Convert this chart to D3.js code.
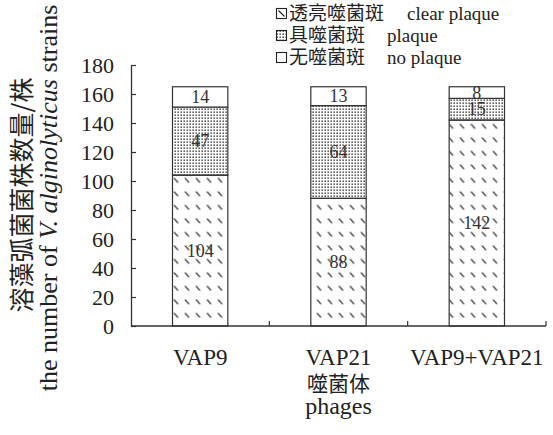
<!DOCTYPE html>
<html><head><meta charset="utf-8">
<script src="https://cdn.jsdelivr.net/npm/d3@7/dist/d3.min.js"></script>
<style>
body{margin:0;background:#fff}svg{display:block}
.serif{font-family:"Liberation Serif","Times New Roman",Times,"DejaVu Serif",serif}
.cjk{font-family:"Noto Sans CJK SC","Noto Sans CJK JP",sans-serif}
</style>
</head><body><svg id="c" width="553" height="435"></svg>
<script>
const categories = ["VAP9", "VAP21", "VAP9+VAP21"];
const clearPlaque = [104, 88, 142];
const plaque = [47, 64, 15];
const noPlaque = [14, 13, 8];
const seriesKeys = ["clear", "plaque", "none"];
const legendZh = ["透亮噬菌斑", "具噬菌斑", "无噬菌斑"];
const legendEn = ["clear plaque", "plaque", "no plaque"];
const yTicks = [0, 20, 40, 60, 80, 100, 120, 140, 160, 180];
const yTitleZh = "溶藻弧菌菌株数量/株";
const xTitleZh = "噬菌体";
const xTitleEn = "phages";

const ink = "#222";

const svg = d3.select("#c");
svg.append("rect").attr("width", 553).attr("height", 435).attr("fill", "#fff");

const defs = svg.append("defs");
const hatch = defs.append("pattern").attr("id", "hatch").attr("patternUnits", "userSpaceOnUse")
  .attr("width", 11).attr("height", 13.5).attr("x", 172.5).attr("y", 0);
hatch.append("line").attr("x1", 1.5).attr("y1", 2.5).attr("x2", 5.5).attr("y2", 7)
  .attr("stroke", "#111").attr("stroke-width", 1.1);
const dots = defs.append("pattern").attr("id", "dots").attr("patternUnits", "userSpaceOnUse")
  .attr("width", 3).attr("height", 3);
dots.append("rect").attr("x", 0.5).attr("y", 0.5).attr("width", 1.3).attr("height", 1.3).attr("fill", "#111");

const fills = { clear: "url(#hatch)", plaque: "url(#dots)", none: "#fff" };

const rows = categories.map((c, i) => ({ cat: c, clear: clearPlaque[i], plaque: plaque[i], none: noPlaque[i] }));
const stacked = d3.stack().keys(seriesKeys)(rows);

const x = d3.scaleBand().domain(categories).range([131, 546]).paddingInner(0.6).paddingOuter(0.3);
const y = d3.scaleLinear().domain([0, 180]).range([326, 65]);

// bars
stacked.forEach(s => {
  svg.append("g").selectAll("rect").data(s).join("rect")
    .attr("x", d => x(d.data.cat))
    .attr("width", x.bandwidth())
    .attr("y", d => y(d[1]))
    .attr("height", d => y(d[0]) - y(d[1]))
    .attr("fill", fills[s.key])
    .attr("stroke", "#333").attr("stroke-width", 1.2);
});
// segment labels
stacked.forEach(s => {
  svg.append("g").selectAll("text").data(s).join("text")
    .attr("class", "serif")
    .attr("x", d => x(d.data.cat) + x.bandwidth() / 2)
    .attr("y", d => y((d[0] + d[1]) / 2) + 6)
    .attr("text-anchor", "middle")
    .attr("font-size", 18).attr("fill", "#333")
    .text(d => d[1] - d[0]);
});

// y axis
const ya = svg.append("g").attr("transform", "translate(131,0)")
  .call(d3.axisLeft(y).tickValues(yTicks).tickSizeInner(-5).tickSizeOuter(0).tickPadding(17));
ya.attr("font-family", null).attr("font-size", null);
ya.select(".domain").attr("stroke", "#333").attr("stroke-width", 1.3);
ya.selectAll(".tick line").attr("stroke", "#333").attr("stroke-width", 1.2);
ya.selectAll(".tick text").attr("class", "serif").attr("font-size", 22).attr("fill", ink);

// x axis
svg.append("line").attr("x1", 131).attr("x2", 546).attr("y1", 326).attr("y2", 326)
  .attr("stroke", "#333").attr("stroke-width", 1.3);
svg.append("g").selectAll("line").data(categories).join("line")
  .attr("x1", d => x(d) + x.bandwidth() + x.step() * 0.3)
  .attr("x2", d => x(d) + x.bandwidth() + x.step() * 0.3)
  .attr("y1", 326).attr("y2", 321)
  .attr("stroke", "#333").attr("stroke-width", 1.2);
svg.append("g").selectAll("text").data(categories).join("text")
  .attr("class", "serif")
  .attr("x", d => x(d) + x.bandwidth() / 2).attr("y", 365)
  .attr("text-anchor", "middle").attr("font-size", 23).attr("fill", ink)
  .text(d => d);
const midX = x(categories[1]) + x.bandwidth() / 2;
svg.append("text").attr("class", "cjk").attr("x", midX).attr("y", 391).attr("text-anchor", "middle")
  .attr("font-size", 21).attr("fill", ink).text(xTitleZh);
svg.append("text").attr("class", "serif").attr("x", midX).attr("y", 414).attr("text-anchor", "middle")
  .attr("font-size", 24).attr("fill", ink).text(xTitleEn);

// y title
svg.append("text").attr("class", "cjk").attr("transform", "translate(31,195) rotate(-90)").attr("text-anchor", "middle")
  .attr("font-size", 25).attr("fill", ink).text(yTitleZh);
const yt = svg.append("text").attr("class", "serif").attr("transform", "translate(57,198) rotate(-90)").attr("text-anchor", "middle")
  .attr("font-size", 26).attr("fill", ink);
yt.append("tspan").text("the number of ");
yt.append("tspan").attr("font-style", "italic").text("V. alginolyticus");
yt.append("tspan").text(" strains");

// legend
const lg = svg.append("g");
legendZh.forEach((t, i) => {
  const by = 20 + i * 22;
  lg.append("rect").attr("x", 276.5).attr("y", by - 11.5).attr("width", 10).attr("height", 10)
    .attr("fill", i === 1 ? "url(#dots)" : "#fff").attr("stroke", "#222").attr("stroke-width", 1.1);
  if (i === 0) {
    lg.append("line").attr("x1", 278.5).attr("y1", by - 9.5).attr("x2", 284.5).attr("y2", by - 3.5)
      .attr("stroke", "#222").attr("stroke-width", 1.1);
  }
  lg.append("text").attr("class", "cjk").attr("x", 289).attr("y", by).attr("font-size", 19)
    .attr("fill", ink).text(t);
  lg.append("text").attr("class", "serif").attr("x", i === 0 ? 407 : 387).attr("y", by)
    .attr("font-size", 19).attr("fill", ink).text(legendEn[i]);
});
</script></body></html>
